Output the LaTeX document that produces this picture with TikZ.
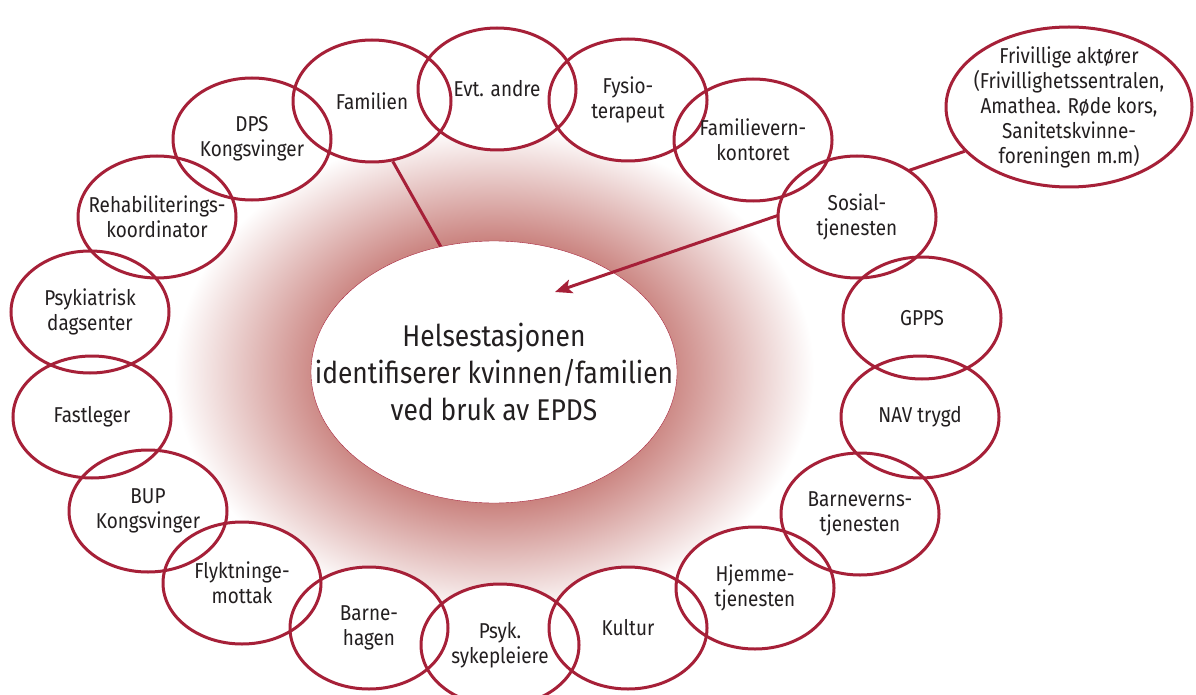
\documentclass[tikz,border=0pt]{standalone}
\usepackage{fontspec}
\setmainfont{Fira Sans}[FakeStretch=0.88]
\usetikzlibrary{shapes.geometric,arrows.meta}

\definecolor{crimson}{RGB}{166,32,56}
\definecolor{glowred}{RGB}{200,126,122}
\definecolor{ink}{RGB}{35,31,32}

% soft red halo round the central ellipse
\pgfdeclareradialshading{halo}{\pgfpoint{0bp}{0bp}}{color(0bp)=(glowred); color(13bp)=(glowred); color(25bp)=(white); color(50bp)=(white)}

\pgfdeclarelayer{back}
\pgfdeclarelayer{mid}
\pgfsetlayers{back,mid,main}

\begin{document}
\begin{tikzpicture}[x=1pt, y=-1pt, line width=3pt]
    % Node styles
    \tikzset{
        partner/.style={ellipse, draw=crimson, minimum width=158pt, minimum height=122pt, inner sep=0pt},
        partner fill/.style={ellipse, fill=white, minimum width=158pt, minimum height=122pt, inner sep=0pt},
        blurb/.style={align=center, text=ink, inner sep=0pt, font=\fontsize{21.5}{25}\selectfont},
        hub/.style={ellipse, draw=crimson, fill=white, minimum width=366pt, minimum height=262pt, inner sep=0pt},
        hub text/.style={align=center, text=ink, inner sep=0pt, font=\fontsize{30}{37}\selectfont},
        link/.style={draw=crimson, line width=3pt}
    }
    \useasboundingbox (0,0) rectangle (1196,695);

    % Partners round the hub: name / x / y / text
    \def\partners{%
        fam/372/101/{Familien},
        evt/497/89/{Evt. andre},
        fysio/628/100/{Fysio-\\terapeut},
        fvk/753/140/{Familievern-\\kontoret},
        sos/857/217/{Sosial-\\tjenesten},
        gpps/922/318/{GPPS},
        nav/920/417/{NAV trygd},
        bvt/860/514/{Barneverns-\\tjenesten},
        hjem/755/588/{Hjemme-\\tjenesten},
        kultur/628/628/{Kultur},
        psyk/500/645/{Psyk.\\sykepleiere},
        barn/369/628/{Barne-\\hagen},
        flykt/242/583/{Flyktninge-\\mottak},
        bup/148/511/{BUP\\Kongsvinger},
        fast/92/417/{Fastleger},
        psykd/90/312/{Psykiatrisk\\dagsenter},
        rehab/157/217/{Rehabiliterings-\\koordinator},
        dps/252/139/{DPS\\Kongsvinger}}

    % white insides first, so that all outlines stay visible
    \foreach \id/\px/\py/\words in \partners
        \node[partner fill] at (\px,\py) {};
    \foreach \id/\px/\py/\words in \partners
        \node[partner, label={[blurb]center:\words}] (\id) at (\px,\py) {};

    % Volunteer actors
    \node[partner, fill=white, minimum width=246pt, minimum height=160pt,
        label={[blurb]center:{Frivillige aktører\\(Frivillighetssentralen,\\Amathea. Røde kors,\\Sanitetskvinne-\\foreningen m.m)}}]
        (friv) at (1069,107) {};

    \begin{pgfonlayer}{mid}
        % Central ellipse
        \node[hub, label={[hub text]center:{Helsestasjonen\\identifiserer kvinnen/familien\\ved bruk av EPDS}}] (hub) at (494,372) {};

        % Connectors
        \coordinate (aim) at (555,292);
        \draw[link] (fam.-71) -- (hub.113);
        \draw[link, -{Stealth[length=17pt, width=14pt, inset=4pt]}] (friv.203) -- (aim);
    \end{pgfonlayer}

    \begin{pgfonlayer}{back}
        \fill[white] (0,0) rectangle (1196,695);
        \shade[shading=halo] (hub.center) ellipse (320 and 245);
    \end{pgfonlayer}
\end{tikzpicture}
\end{document}
